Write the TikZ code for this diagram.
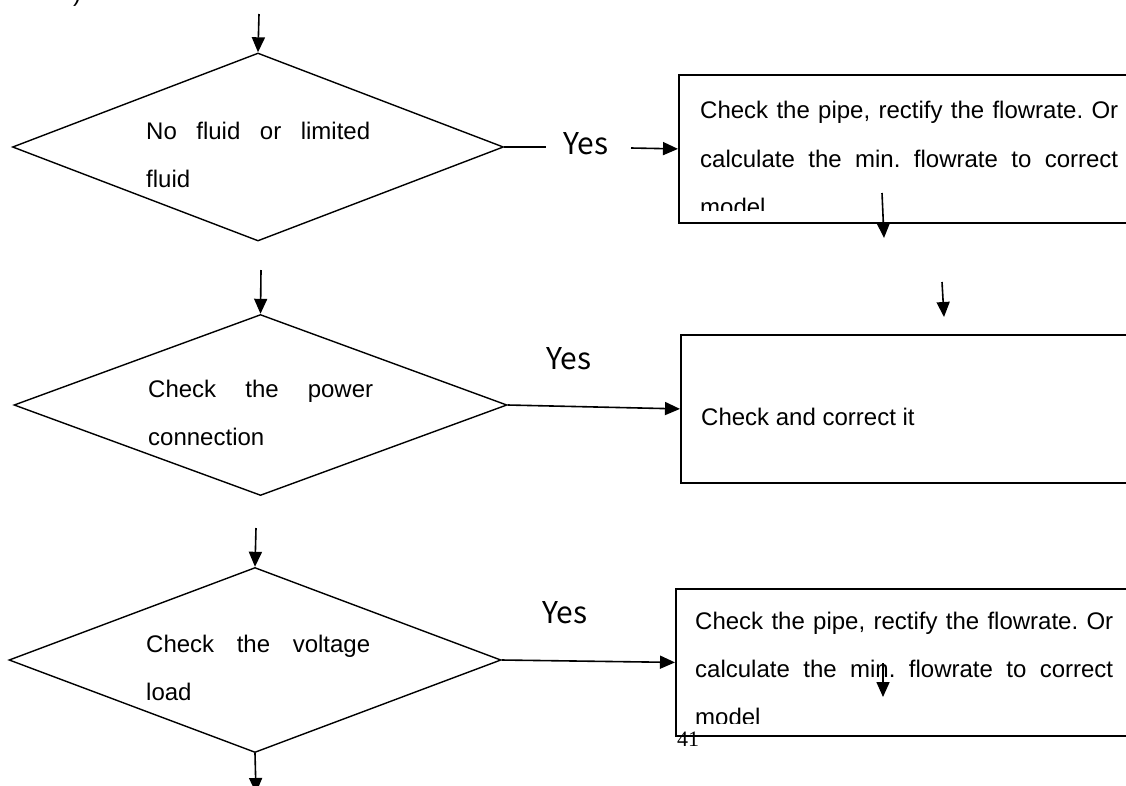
\documentclass[tikz,border=0pt]{standalone}
\usepackage{fontspec}
\setmainfont{Liberation Sans}
\newfontfamily\yesfont{Noto Sans CJK SC}
\newfontfamily\pagefont{Liberation Serif}
\usetikzlibrary{arrows.meta,shapes.geometric}
\frenchspacing

% one line of text stretched to a fixed width
\newcommand\justline[2]{\makebox[#1][s]{#2}}

\tikzset{
  decision/.style={diamond, draw, line width=1.4pt, inner sep=0pt, shape aspect=1},
  actbox/.style={rectangle, draw, line width=1.8pt, inner sep=0pt, anchor=north west},
  body/.style={inner sep=0pt, anchor=base west, font=\fontsize{24}{28}\selectfont},
  yeslabel/.style={inner sep=0pt, anchor=base west, font=\yesfont\fontsize{30}{34}\selectfont},
  flow/.style={line width=1.6pt, -{Triangle[length=15pt,width=13pt]}},
  plain/.style={line width=1.6pt}
}

\begin{document}
\begin{tikzpicture}[x=1pt,y=-1pt]
\clip (0,0) rectangle (1126,785);
\fill[white] (0,0) rectangle (1126,785);

% tail of the preceding text
\node[inner sep=0pt, anchor=base west, font=\fontsize{24}{28}\selectfont] (prev) at (73,1) {)};

% decision shapes
\node[decision, minimum width=491pt, minimum height=188pt] (d1) at (258,147) {};
\node[decision, minimum width=493pt, minimum height=181pt] (d2) at (260.5,405) {};
\node[decision, minimum width=492pt, minimum height=185pt] (d3) at (255,660) {};

% decision texts
\node[body] (d1a) at (146,139) {\justline{224pt}{No fluid or limited}};
\node[body] (d1b) at (146,187) {fluid};
\node[body] (d2a) at (148,397) {\justline{225pt}{Check the power}};
\node[body] (d2b) at (148,445) {connection};
\node[body] (d3a) at (146,652) {\justline{224pt}{Check the voltage}};
\node[body] (d3b) at (146,700) {load};

% action boxes (running past the right edge)
\node[actbox, minimum width=470pt, minimum height=148pt] (b1) at (678,74) {};
\node[actbox, minimum width=470pt, minimum height=148pt] (b2) at (680,334) {};
\node[actbox, minimum width=470pt, minimum height=147pt] (b3) at (675,588) {};

% box texts, cut off at the lower edge of their boxes
\begin{scope}
\clip (678,74) rectangle (1126,210);
\node[body] (b1a) at (700,118) {\justline{418pt}{Check the pipe, rectify the flowrate. Or}};
\node[body] (b1b) at (700,167) {\justline{418pt}{calculate the min. flowrate to correct}};
\node[body] (b1c) at (700,215) {model};
\end{scope}
\node[body] (b2a) at (701,425) {Check and correct it};
\begin{scope}
\clip (675,588) rectangle (1126,723);
\node[body] (b3a) at (695,629) {\justline{418pt}{Check the pipe, rectify the flowrate. Or}};
\node[body] (b3b) at (695,677) {\justline{418pt}{calculate the min. flowrate to correct}};
\node[body] (b3c) at (695,725) {model};
\end{scope}

% page number
\node[inner sep=0pt, anchor=base west, font=\pagefont\fontsize{22}{24}\selectfont] (pg) at (677,746) {41};

% yes labels
\node[yeslabel] (y1) at (563,154) {Yes};
\node[yeslabel] (y2) at (546,369) {Yes};
\node[yeslabel] (y3) at (542,623) {Yes};

% free ends of connectors
\coordinate (in0) at (259,14);
\coordinate (in2) at (261,270);
\coordinate (in3) at (256,528);
\coordinate (out3) at (256,793);
\coordinate (y1l) at (546,147);
\coordinate (y1r) at (631,148);
\coordinate (a1s) at (882,193);
\coordinate (a1e) at (884,238);
\coordinate (a2s) at (942,282);
\coordinate (a2e) at (944,317);
\coordinate (a3s) at (883,663);
\coordinate (a3e) at (883,697);

% connectors
\draw[flow] (in0) -- (d1.north);
\draw[plain] (d1.east) -- (y1l);
\draw[flow] (y1r) -- (b1.west);
\draw[flow] (in2) -- (d2.north);
\draw[flow] (d2.east) -- (b2.west);
\draw[flow] (in3) -- (d3.north);
\draw[flow] (d3.east) -- (b3.west);
\draw[flow] (d3.south) -- (out3);
\draw[flow] (a1s) -- (a1e);
\draw[flow] (a2s) -- (a2e);
\draw[flow] (a3s) -- (a3e);
\end{tikzpicture}
\end{document}
